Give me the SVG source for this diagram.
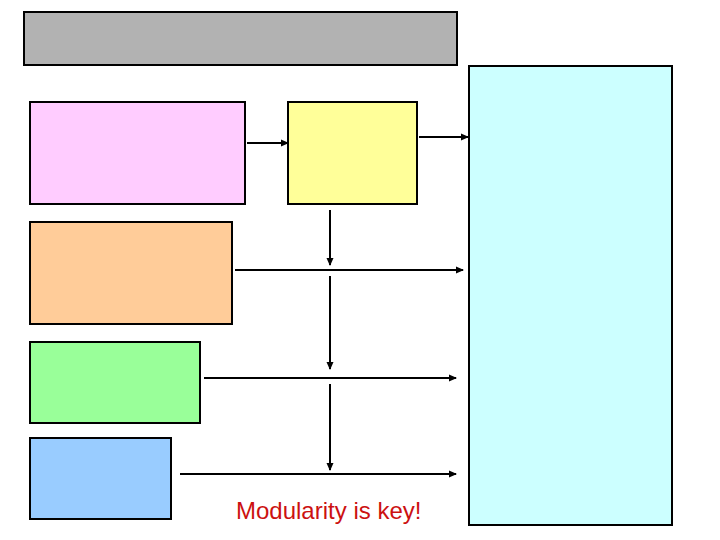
<svg xmlns="http://www.w3.org/2000/svg" width="720" height="540" viewBox="0 0 720 540">
<defs>
<style>
.box{stroke:#000;stroke-width:2}
.ln{stroke:#000;stroke-width:2;fill:none;marker-end:url(#ah)}
.lbl{font-family:"Liberation Sans",Arial,sans-serif;font-size:24px;fill:#cc1111}
</style>
<marker id="ah" markerWidth="8" markerHeight="8" refX="7" refY="4" orient="auto" markerUnits="userSpaceOnUse">
<path d="M0,0.5 L8,4 L0,7.5 Z" fill="#000"/>
</marker>
</defs>
<rect width="720" height="540" fill="#fff"/>
<g id="title"><rect class="box" x="24" y="12" width="433" height="53" fill="#b2b2b2"/></g>
<g id="output"><rect class="box" x="469" y="66" width="203" height="459" fill="#ccffff"/></g>
<g id="pink"><rect class="box" x="30" y="102" width="215" height="102" fill="#ffccff"/></g>
<g id="yellow"><rect class="box" x="288" y="102" width="129" height="102" fill="#ffff99"/></g>
<g id="orange"><rect class="box" x="30" y="222" width="202" height="102" fill="#ffcc99"/></g>
<g id="green"><rect class="box" x="30" y="342" width="170" height="81" fill="#99ff99"/></g>
<g id="blue"><rect class="box" x="30" y="438" width="141" height="81" fill="#99ccff"/></g>
<g id="connectors">
<line class="ln" x1="247" y1="143" x2="288" y2="143"/>
<line class="ln" x1="419" y1="137" x2="468" y2="137"/>
<line class="ln" x1="330" y1="210" x2="330" y2="265"/>
<line class="ln" x1="235" y1="270" x2="463" y2="270"/>
<line class="ln" x1="330" y1="276" x2="330" y2="369"/>
<line class="ln" x1="204" y1="378" x2="456" y2="378"/>
<line class="ln" x1="330" y1="384" x2="330" y2="470"/>
<line class="ln" x1="180" y1="474" x2="456" y2="474"/>
</g>
<g id="note"><text class="lbl" x="236" y="519">Modularity is key!</text></g>
</svg>
